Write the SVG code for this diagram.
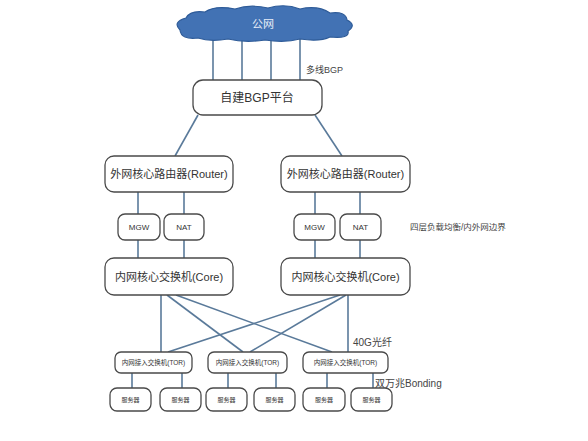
<svg xmlns="http://www.w3.org/2000/svg" width="588" height="441" viewBox="0 0 588 441">
<style>
.box{fill:#fff;stroke:#4a4a4a;stroke-width:1.3}
.ln{stroke:#5a7a9a;stroke-width:1.6;fill:none}
.t{font-family:"Liberation Sans","Noto Sans CJK SC",sans-serif;fill:#333;text-anchor:middle;dominant-baseline:central}
.lbl{font-family:"Liberation Sans","Noto Sans CJK SC",sans-serif;fill:#444}
</style>
<rect width="588" height="441" fill="#fff"/>
<g id="connectors">
<line class="ln" x1="213" y1="36" x2="213" y2="80"/>
<line class="ln" x1="242" y1="38" x2="242" y2="80"/>
<line class="ln" x1="271" y1="38" x2="271" y2="80"/>
<line class="ln" x1="300" y1="37" x2="300" y2="80"/>
<line class="ln" x1="198" y1="115" x2="175" y2="156"/>
<line class="ln" x1="315" y1="115" x2="342" y2="156"/>
<line class="ln" x1="138" y1="192" x2="138" y2="214"/>
<line class="ln" x1="184" y1="192" x2="184" y2="214"/>
<line class="ln" x1="315" y1="192" x2="315" y2="214"/>
<line class="ln" x1="360" y1="192" x2="360" y2="214"/>
<line class="ln" x1="138" y1="240" x2="138" y2="258"/>
<line class="ln" x1="184" y1="240" x2="184" y2="258"/>
<line class="ln" x1="315" y1="240" x2="315" y2="258"/>
<line class="ln" x1="360" y1="240" x2="360" y2="258"/>
<line class="ln" x1="161" y1="295" x2="161" y2="352"/>
<line class="ln" x1="167" y1="295" x2="243" y2="352"/>
<line class="ln" x1="176" y1="295" x2="332" y2="352"/>
<line class="ln" x1="348" y1="295" x2="348" y2="352"/>
<line class="ln" x1="346" y1="295" x2="250" y2="352"/>
<line class="ln" x1="340" y1="295" x2="168" y2="352"/>
<line class="ln" x1="132" y1="373" x2="132" y2="388"/>
<line class="ln" x1="182" y1="373" x2="182" y2="388"/>
<line class="ln" x1="228" y1="373" x2="228" y2="388"/>
<line class="ln" x1="276" y1="373" x2="276" y2="388"/>
<line class="ln" x1="327" y1="373" x2="327" y2="388"/>
<line class="ln" x1="373" y1="373" x2="373" y2="388"/>
</g>
<g id="cloud">
<path d="M180,30 Q172,22 186,18 Q190,10 205,12 Q215,5 235,9 Q250,4 268,8 Q285,3 300,9 Q318,5 330,13 Q346,11 347,20 Q357,25 348,31 Q350,39 330,37 Q320,42 300,39 Q285,43 265,40 Q245,43 228,39 Q210,42 198,38 Q181,40 180,30 Z" fill="#4272b4" stroke="#2e5b98" stroke-width="1.2"/>
<text class="t" x="263" y="24" font-size="11" style="fill:#e8eef8">公网</text>
</g>
<g id="bgp">
<rect class="box" x="193" y="80" width="129" height="35" rx="10"/>
<text class="t" x="257" y="98" font-size="12">自建BGP平台</text>
</g>
<g id="router-left">
<rect class="box" x="105" y="156" width="128" height="36" rx="9"/>
<text class="t" x="169" y="174" font-size="11">外网核心路由器(Router)</text>
</g>
<g id="router-right">
<rect class="box" x="281" y="156" width="129" height="36" rx="9"/>
<text class="t" x="345.5" y="174" font-size="11">外网核心路由器(Router)</text>
</g>
<g id="mgw-left">
<rect class="box" x="118" y="214" width="42" height="26" rx="7"/>
<text class="t" x="139" y="227" font-size="8">MGW</text>
</g>
<g id="nat-left">
<rect class="box" x="164" y="214" width="40" height="26" rx="7"/>
<text class="t" x="184" y="227" font-size="8">NAT</text>
</g>
<g id="mgw-right">
<rect class="box" x="294" y="214" width="41" height="26" rx="7"/>
<text class="t" x="314.5" y="227" font-size="8">MGW</text>
</g>
<g id="nat-right">
<rect class="box" x="340" y="214" width="41" height="26" rx="7"/>
<text class="t" x="360.5" y="227" font-size="8">NAT</text>
</g>
<g id="core-left">
<rect class="box" x="105" y="258" width="128" height="37" rx="9"/>
<text class="t" x="169" y="276.5" font-size="11">内网核心交换机(Core)</text>
</g>
<g id="core-right">
<rect class="box" x="281" y="258" width="129" height="37" rx="9"/>
<text class="t" x="345.5" y="276.5" font-size="11">内网核心交换机(Core)</text>
</g>
<g id="tor-1">
<rect class="box" x="115" y="352" width="77" height="21" rx="6"/>
<text class="t" x="153.5" y="362.5" font-size="6.5">内网接入交换机(TOR)</text>
</g>
<g id="tor-2">
<rect class="box" x="208" y="352" width="79" height="21" rx="6"/>
<text class="t" x="247.5" y="362.5" font-size="6.5">内网接入交换机(TOR)</text>
</g>
<g id="tor-3">
<rect class="box" x="303" y="352" width="85" height="21" rx="6"/>
<text class="t" x="345.5" y="362.5" font-size="6.5">内网接入交换机(TOR)</text>
</g>
<g id="srv-1"><rect class="box" x="110" y="388" width="41" height="23" rx="7"/><text class="t" x="130.5" y="399.5" font-size="6">服务器</text></g>
<g id="srv-2"><rect class="box" x="160" y="388" width="41" height="23" rx="7"/><text class="t" x="180.5" y="399.5" font-size="6">服务器</text></g>
<g id="srv-3"><rect class="box" x="206" y="388" width="41" height="23" rx="7"/><text class="t" x="226.5" y="399.5" font-size="6">服务器</text></g>
<g id="srv-4"><rect class="box" x="254" y="388" width="41" height="23" rx="7"/><text class="t" x="274.5" y="399.5" font-size="6">服务器</text></g>
<g id="srv-5"><rect class="box" x="303" y="388" width="42" height="23" rx="7"/><text class="t" x="324" y="399.5" font-size="6">服务器</text></g>
<g id="srv-6"><rect class="box" x="351" y="388" width="41" height="23" rx="7"/><text class="t" x="371.5" y="399.5" font-size="6">服务器</text></g>
<g id="labels">
<text class="lbl" x="306" y="73" font-size="9">多线BGP</text>
<text class="lbl" x="410" y="230" font-size="8.5">四层负载均衡/内外网边界</text>
<text class="lbl" x="353" y="346" font-size="10">40G光纤</text>
<text class="lbl" x="375" y="387" font-size="10">双万兆Bonding</text>
</g>
</svg>
